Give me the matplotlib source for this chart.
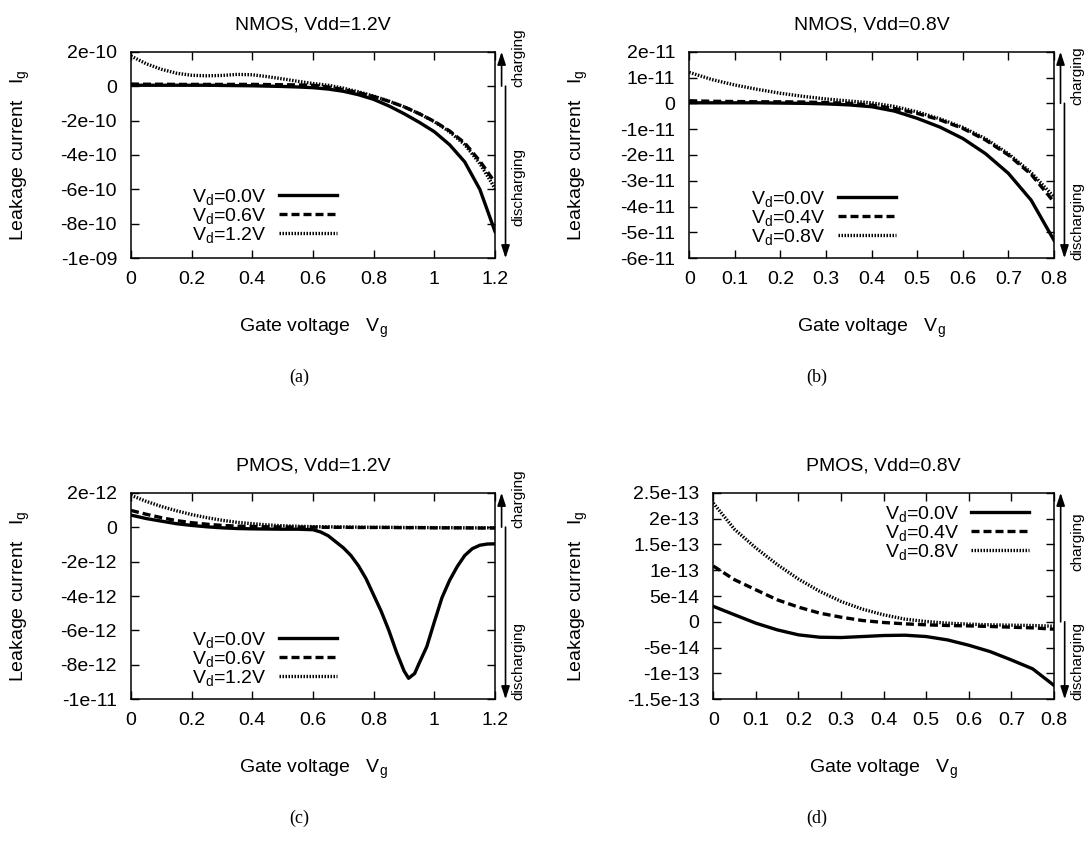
"""
Gate leakage current vs gate voltage, four panels (NMOS/PMOS, two Vdd).
"""
import numpy as np
import matplotlib
matplotlib.use('Agg')
import matplotlib.pyplot as plt
from matplotlib.ticker import FuncFormatter

# ---- data: NMOS, Vdd=1.2V (A) ----
x_n12 = [0, 0.05, 0.1, 0.15, 0.2, 0.25, 0.3, 0.35, 0.4, 0.45, 0.5, 0.55, 0.6,
         0.65, 0.7, 0.75, 0.8, 0.85, 0.9, 0.95, 1.0, 1.05, 1.1, 1.15, 1.2]
n12_vd00 = np.array([0.05, 0.05, 0.05, 0.05, 0.05, 0.05, 0.04, 0.03, 0.02, 0.0, -0.02, -0.05, -0.09,
                     -0.17, -0.3, -0.5, -0.77, -1.15, -1.6, -2.1, -2.65, -3.4, -4.4, -6.0, -8.45]) * 1e-10
n12_vd06 = np.array([0.12, 0.11, 0.11, 0.1, 0.1, 0.1, 0.1, 0.1, 0.1, 0.09, 0.08, 0.07, 0.05,
                     -0.05, -0.2, -0.38, -0.6, -0.88, -1.2, -1.6, -2.05, -2.6, -3.3, -4.35, -5.6]) * 1e-10
n12_vd12 = np.array([1.75, 1.3, 0.98, 0.75, 0.63, 0.6, 0.62, 0.68, 0.66, 0.55, 0.42, 0.28, 0.15,
                     0.05, -0.12, -0.33, -0.58, -0.87, -1.2, -1.6, -2.07, -2.65, -3.4, -4.5, -5.95]) * 1e-10

# ---- data: NMOS, Vdd=0.8V ----
x_n08 = [0, 0.05, 0.1, 0.15, 0.2, 0.25, 0.3, 0.35, 0.4, 0.45, 0.5, 0.55, 0.6, 0.65, 0.7, 0.75, 0.8]
n08_vd00 = np.array([0.02, 0.02, 0.02, 0.02, 0.01, 0.0, -0.02, -0.06, -0.13, -0.3, -0.58, -0.92,
                     -1.36, -1.95, -2.71, -3.75, -5.3]) * 1e-11
n08_vd04 = np.array([0.1, 0.08, 0.07, 0.06, 0.06, 0.05, 0.03, 0.0, -0.07, -0.2, -0.39, -0.64,
                     -0.97, -1.42, -2.0, -2.75, -3.82]) * 1e-11
n08_vd08 = np.array([1.2, 0.92, 0.71, 0.54, 0.39, 0.27, 0.17, 0.09, 0.02, -0.12, -0.33, -0.6,
                     -0.93, -1.37, -1.95, -2.68, -3.62]) * 1e-11

# ---- data: PMOS, Vdd=1.2V ----
x_p12 = [0, 0.05, 0.1, 0.15, 0.2, 0.25, 0.3, 0.35, 0.4, 0.45, 0.5, 0.55, 0.6,
         0.65, 0.7, 0.75, 0.8, 0.85, 0.9, 0.95, 1.0, 1.05, 1.1, 1.15, 1.2]
x_p12_dip = [0, 0.05, 0.1, 0.15, 0.2, 0.25, 0.3, 0.35, 0.4, 0.45, 0.5, 0.55, 0.6, 0.625, 0.65,
             0.675, 0.7, 0.725, 0.75, 0.775, 0.8, 0.825, 0.85, 0.875, 0.9, 0.915, 0.935, 0.95,
             0.975, 1.0, 1.025, 1.05, 1.075, 1.1, 1.125, 1.15, 1.175, 1.2]
p12_vd00 = np.array([0.7, 0.5, 0.35, 0.2, 0.1, 0.02, -0.04, -0.08, -0.1, -0.11, -0.12, -0.12, -0.15,
                     -0.28, -0.5, -0.85, -1.2, -1.65, -2.25, -3.0, -3.95, -4.9, -6.0, -7.25, -8.35,
                     -8.78, -8.5, -7.9, -6.94, -5.5, -4.1, -3.1, -2.3, -1.65, -1.25, -1.05, -0.98,
                     -0.97]) * 1e-12
p12_vd06 = np.array([0.97, 0.75, 0.55, 0.38, 0.26, 0.17, 0.1, 0.06, 0.04, 0.02, 0.01, 0.0, 0.0,
                     -0.01, -0.01, -0.02, -0.02, -0.02, -0.03, -0.03, -0.04, -0.04, -0.04, -0.05,
                     -0.05]) * 1e-12
p12_vd12 = np.array([1.85, 1.5, 1.2, 0.95, 0.73, 0.55, 0.4, 0.28, 0.2, 0.13, 0.08, 0.05, 0.03,
                     0.02, 0.01, 0.0, -0.01, -0.01, -0.02, -0.02, -0.03, -0.03, -0.04, -0.04,
                     -0.04]) * 1e-12

# ---- data: PMOS, Vdd=0.8V ----
x_p08 = [0, 0.05, 0.1, 0.15, 0.2, 0.25, 0.3, 0.35, 0.4, 0.45, 0.5, 0.55, 0.6, 0.65, 0.7, 0.75, 0.8]
p08_vd00 = np.array([3.0, 1.36, -0.26, -1.55, -2.52, -2.98, -3.04, -2.85, -2.65, -2.59, -2.85, -3.5,
                     -4.53, -5.76, -7.38, -9.1, -12.3]) * 1e-14
p08_vd04 = np.array([10.8, 8.15, 6.2, 4.27, 2.85, 1.68, 0.9, 0.26, -0.13, -0.39, -0.58, -0.71,
                     -0.78, -0.9, -1.04, -1.17, -1.42]) * 1e-14
p08_vd08 = np.array([23.0, 17.9, 14.3, 11.1, 8.28, 5.9, 3.95, 2.46, 1.36, 0.52, 0.06, -0.26,
                     -0.45, -0.58, -0.65, -0.71, -0.85]) * 1e-14

# ---- axis ticks ----
xt_12 = [0, 0.2, 0.4, 0.6, 0.8, 1.0, 1.2]
xt_08 = [0, 0.1, 0.2, 0.3, 0.4, 0.5, 0.6, 0.7, 0.8]
yt_n12 = [2e-10, 0, -2e-10, -4e-10, -6e-10, -8e-10, -1e-9]
yt_n08 = [2e-11, 1e-11, 0, -1e-11, -2e-11, -3e-11, -4e-11, -5e-11, -6e-11]
yt_p12 = [2e-12, 0, -2e-12, -4e-12, -6e-12, -8e-12, -1e-11]
yt_p08 = [2.5e-13, 2e-13, 1.5e-13, 1e-13, 5e-14, 0, -5e-14, -1e-13, -1.5e-13]

plt.rcParams.update({
    'font.family': ['Liberation Sans', 'DejaVu Sans'],
    'font.size': 14,
    'mathtext.fontset': 'custom',
    'mathtext.rm': 'Liberation Sans',
    'mathtext.it': 'Liberation Sans:italic',
    'axes.linewidth': 1.1,
    'xtick.direction': 'in', 'ytick.direction': 'in',
    'xtick.top': True, 'ytick.right': True,
    'xtick.major.size': 6, 'ytick.major.size': 6,
    'xtick.major.width': 1.0, 'ytick.major.width': 1.0,
    'xtick.major.pad': 9, 'ytick.major.pad': 10,
})

fmt = FuncFormatter(lambda v, pos: '%g' % v)

fig = plt.figure(figsize=(10.88, 8.46), dpi=100)
ax_a = fig.add_axes([0.1204, 0.6947, 0.3346, 0.2442])
ax_b = fig.add_axes([0.6335, 0.6947, 0.3352, 0.2442])
ax_c = fig.add_axes([0.1204, 0.1734, 0.3346, 0.2442])
ax_d = fig.add_axes([0.6556, 0.1734, 0.3131, 0.2442])


def draw(ax, xs, ys, labels, title, xt, yt, leg_xy, ylab_x, chg_y, dis_y, txt_x, arr_dx):
    styles = [dict(ls='-'), dict(dashes=(2.4, 1.2)), dict(dashes=(0.45, 0.45))]
    for x, y, lab, st in zip(xs, ys, labels, styles):
        ax.plot(x, y, color='black', lw=2.4, label=lab, **st)
    ax.set_xlim(xt[0], xt[-1])
    ax.set_ylim(yt[-1], yt[0])
    ax.set_xticks(xt)
    ax.set_yticks(yt)
    ax.xaxis.set_major_formatter(fmt)
    ax.yaxis.set_major_formatter(fmt)
    ax.set_title(title, fontsize=14, pad=16)
    ax.set_xlabel('Gate voltage   V$_\\mathrm{g}$')
    ax.set_ylabel('Leakage current   I$_\\mathrm{g}$')
    ax.xaxis.set_label_coords(0.5, -0.34)
    ax.xaxis.label.set_verticalalignment('center')
    ax.yaxis.set_label_coords(ylab_x, 0.5)
    ax.yaxis.label.set_verticalalignment('center')
    ax.legend(loc='center right', bbox_to_anchor=leg_xy, frameon=False, markerfirst=False,
              handlelength=3.0, handletextpad=0.6, labelspacing=-0.05,
              borderpad=0, borderaxespad=0, fontsize=14)
    # charging / discharging arrows on the right side
    tr = ax.get_yaxis_transform()
    head = '-|>,head_length=0.55,head_width=0.18'
    ax.annotate('', xy=(1 + arr_dx, yt[0]), xytext=(1 + arr_dx, 0), xycoords=tr, textcoords=tr,
                arrowprops=dict(arrowstyle=head, lw=1.2, color='black', shrinkA=0, shrinkB=0,
                                mutation_scale=14), annotation_clip=False)
    ax.annotate('', xy=(1 + arr_dx * 1.6, yt[-1]), xytext=(1 + arr_dx * 1.6, 0), xycoords=tr,
                textcoords=tr,
                arrowprops=dict(arrowstyle=head, lw=1.2, color='black', shrinkA=0, shrinkB=0,
                                mutation_scale=14), annotation_clip=False)
    ax.text(txt_x, chg_y, 'charging', transform=ax.transAxes, rotation=90,
            ha='center', va='center', fontsize=11)
    ax.text(txt_x, dis_y, 'discharging', transform=ax.transAxes, rotation=90,
            ha='center', va='center', fontsize=11)


draw(ax_a, [x_n12, x_n12, x_n12], [n12_vd00, n12_vd06, n12_vd12],
     ['V$_\\mathrm{d}$=0.0V', 'V$_\\mathrm{d}$=0.6V', 'V$_\\mathrm{d}$=1.2V'],
     'NMOS, Vdd=1.2V', xt_12, yt_n12, (0.566, 0.205), -0.303, 0.97, 0.347, 1.0646, 0.018)
draw(ax_b, [x_n08, x_n08, x_n08], [n08_vd00, n08_vd04, n08_vd08],
     ['V$_\\mathrm{d}$=0.0V', 'V$_\\mathrm{d}$=0.4V', 'V$_\\mathrm{d}$=0.8V'],
     'NMOS, Vdd=0.8V', xt_08, yt_n08, (0.567, 0.195), -0.303, 0.882, 0.18, 1.0646, 0.018)
draw(ax_c, [x_p12_dip, x_p12, x_p12], [p12_vd00, p12_vd06, p12_vd12],
     ['V$_\\mathrm{d}$=0.0V', 'V$_\\mathrm{d}$=0.6V', 'V$_\\mathrm{d}$=1.2V'],
     'PMOS, Vdd=1.2V', xt_12, yt_p12, (0.566, 0.196), -0.303, 0.97, 0.186, 1.0646, 0.018)
draw(ax_d, [x_p08, x_p08, x_p08], [p08_vd00, p08_vd04, p08_vd08],
     ['V$_\\mathrm{d}$=0.0V', 'V$_\\mathrm{d}$=0.4V', 'V$_\\mathrm{d}$=0.8V'],
     'PMOS, Vdd=0.8V', xt_08, yt_p08, (0.928, 0.806), -0.395, 0.764, 0.186, 1.069, 0.0197)

for lab, fx, fy in [('(a)', 299, 377), ('(b)', 817, 377), ('(c)', 299, 818), ('(d)', 817, 818)]:
    fig.text(fx / 1088, 1 - fy / 846, lab, ha='center', va='center',
             family='Liberation Serif', fontsize=13)

fig.savefig('out.png', dpi=100)
